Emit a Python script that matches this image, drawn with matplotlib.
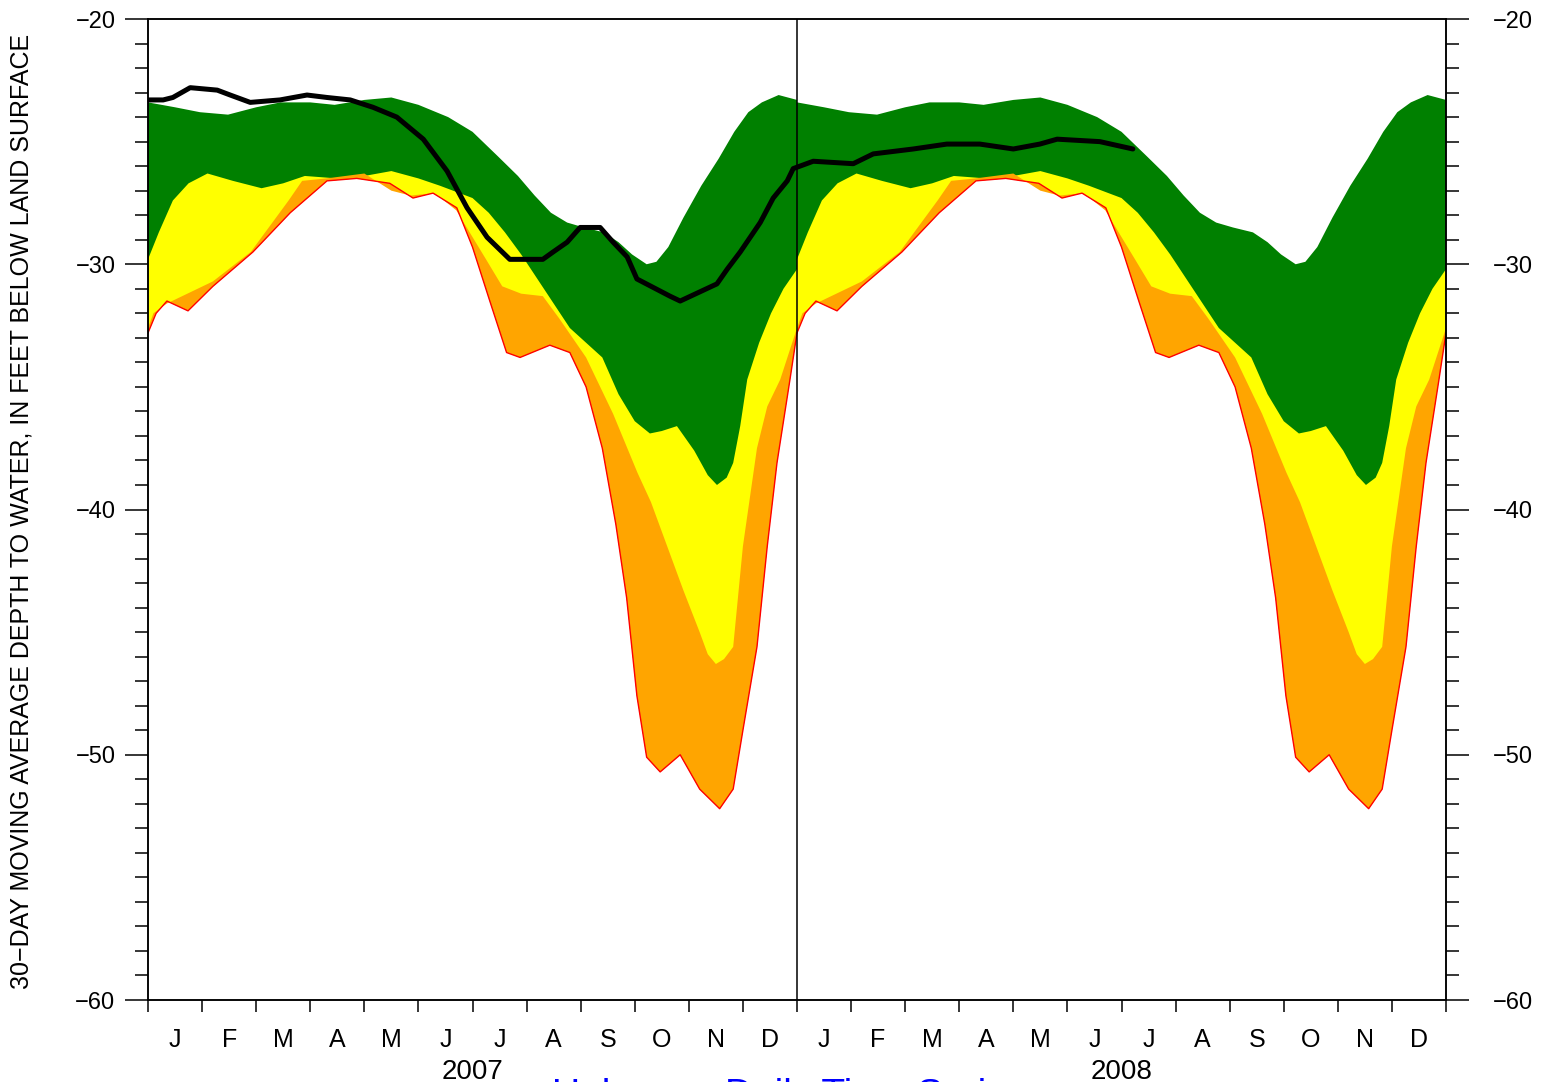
import numpy as np
import matplotlib
matplotlib.use("Agg")
import matplotlib.pyplot as plt
from matplotlib.ticker import MultipleLocator, FixedLocator, FixedFormatter, FuncFormatter

plt.rcParams['font.family'] = ['Liberation Sans', 'DejaVu Sans']

years = ['2007', '2008']
months = ['J', 'F', 'M', 'A', 'M', 'J', 'J', 'A', 'S', 'O', 'N', 'D']

# daily percentiles (month of year 0-12 -> depth, ft), same for both years
p75_m = [0.0, 0.5, 0.96, 1.48, 2.0, 2.45, 3.0, 3.45, 4.0, 4.5, 5.0, 5.55, 6.0, 6.47, 6.84, 7.15, 7.45, 7.75, 8.06,
         8.43, 8.7, 8.95, 9.22, 9.4, 9.62, 9.9, 10.23, 10.55, 10.84, 11.1, 11.35, 11.66, 12.0]
p75_v = [-23.4, -23.6, -23.8, -23.9, -23.6, -23.4, -23.4, -23.5, -23.3, -23.2, -23.5, -24.0, -24.6, -25.6, -26.4, -27.2,
         -27.9, -28.3, -28.5, -28.7, -29.1, -29.6, -30.0, -29.9, -29.3, -28.1, -26.8, -25.7, -24.6, -23.8, -23.4, -23.1, -23.3]

p25_m = [0.0, 0.2, 0.46, 0.75, 1.1, 1.57, 2.1, 2.5, 2.9, 3.5, 4.0, 4.5, 5.0, 5.4, 6.0, 6.3, 6.6, 6.9, 7.2, 7.5, 7.8,
         8.1, 8.4, 8.7, 9.0, 9.28, 9.5, 9.78, 10.1, 10.35, 10.52, 10.7, 10.82, 10.95, 11.08, 11.3, 11.52, 11.75, 12.0]
p25_v = [-29.8, -28.7, -27.4, -26.7, -26.3, -26.6, -26.9, -26.7, -26.4, -26.5, -26.4, -26.2, -26.5, -26.8, -27.3, -27.9,
         -28.7, -29.6, -30.6, -31.6, -32.6, -33.2, -33.8, -35.3, -36.4, -36.9, -36.8, -36.6, -37.6, -38.6, -39.0, -38.7,
         -38.1, -36.6, -34.7, -33.2, -32.0, -31.0, -30.2]

p10_m = [0.0, 0.1, 0.35, 1.2, 1.9, 2.6, 2.85, 3.3, 4.0, 4.5, 4.85, 5.3, 5.7, 6.25, 6.55, 6.9, 7.3, 7.6, 8.1, 8.6, 9.05,
         9.3, 9.6, 9.9, 10.2, 10.35, 10.5, 10.65, 10.82, 11.0, 11.26, 11.45, 11.69, 12.0]
p10_v = [-32.6, -32.0, -31.6, -30.7, -29.5, -27.4, -26.6, -26.5, -26.3, -27.0, -27.2, -27.1, -27.8, -29.8, -30.9, -31.2,
         -31.3, -32.2, -33.8, -36.1, -38.5, -39.7, -41.5, -43.3, -45.0, -45.9, -46.3, -46.1, -45.6, -41.5, -37.5, -35.8,
         -34.7, -32.6]

min_m = [0.0, 0.15, 0.35, 0.74, 1.2, 1.94, 2.63, 3.31, 3.86, 4.47, 4.9, 5.27, 5.71, 6.0, 6.32, 6.63, 6.88, 7.43, 7.8,
         8.1, 8.4, 8.65, 8.85, 9.04, 9.22, 9.47, 9.84, 10.2, 10.57, 10.82, 11.0, 11.26, 11.45, 11.63, 11.87, 12.0]
min_v = [-32.8, -32.0, -31.5, -31.9, -30.9, -29.5, -27.9, -26.6, -26.5, -26.7, -27.3, -27.1, -27.7, -29.3, -31.5, -33.6,
         -33.8, -33.3, -33.6, -35.0, -37.5, -40.6, -43.6, -47.6, -50.1, -50.7, -50.0, -51.4, -52.2, -51.4, -49.0, -45.6,
         -41.5, -38.1, -34.7, -32.8]

# 30-day moving average, months since Jan 2007
obs_m = [0.0, 0.28, 0.46, 0.78, 1.28, 1.52, 1.89, 2.44, 2.94, 3.31, 3.74, 4.16, 4.6, 5.09, 5.53, 5.9, 6.27, 6.69,
         7.3, 7.49, 7.75, 7.99, 8.36, 8.6, 8.86, 9.04, 9.65, 9.84, 10.52, 10.71, 10.95, 11.32, 11.56, 11.82, 11.93,
         12.3, 13.04, 13.41, 14.15, 14.77, 15.38, 16.0, 16.49, 16.81, 17.6, 18.21]
obs_v = [-23.3, -23.3, -23.2, -22.8, -22.9, -23.1, -23.4, -23.3, -23.1, -23.2, -23.3, -23.6, -24.0, -24.9, -26.2, -27.7,
         -28.9, -29.8, -29.8, -29.5, -29.1, -28.5, -28.5, -29.1, -29.7, -30.6, -31.3, -31.5, -30.8, -30.2, -29.5, -28.3,
         -27.3, -26.6, -26.1, -25.8, -25.9, -25.5, -25.3, -25.1, -25.1, -25.3, -25.1, -24.9, -25.0, -25.3]

fig = plt.figure(figsize=(15.44, 10.82), dpi=100)
ax = fig.add_axes([148 / 1544, 1 - 1000 / 1082, 1298 / 1544, 981 / 1082])


def band(upper_m, upper_v, lower_m, lower_v, color):
    for k in range(len(years)):
        xu = np.array(upper_m) + 12 * k
        xl = np.array(lower_m) + 12 * k
        ax.fill(np.concatenate([xu, xl[::-1]]), np.concatenate([upper_v, lower_v[::-1]]),
                color=color, lw=0, zorder=1)


band(p75_m, p75_v, min_m, min_v, '#008000')
band(p25_m, p25_v, min_m, min_v, '#ffff00')
band(p10_m, p10_v, min_m, min_v, '#ffa500')
for k in range(len(years)):
    ax.plot(np.array(min_m) + 12 * k, min_v, color='red', lw=1.0, zorder=2)

ax.axvline(12, color='black', lw=1.1, zorder=3)
ax.plot(obs_m, obs_v, color='black', lw=3.6, solid_capstyle='round', solid_joinstyle='round', zorder=4)

ax.set_xlim(0, 24)
ax.set_ylim(-60, -20)

ax.xaxis.set_major_locator(MultipleLocator(1))
ax.xaxis.set_minor_locator(FixedLocator(np.arange(0.5, 24, 1)))
ax.xaxis.set_minor_formatter(FixedFormatter(months * 2))
ax.tick_params(axis='x', which='major', direction='out', length=8.6, width=1.1, labelbottom=False)
ax.tick_params(axis='x', which='minor', length=0, pad=20, labelsize=18)

fmt = FuncFormatter(lambda v, p: '\u2212' + '%d' % abs(v) if v < 0 else '%d' % v)
ax.yaxis.set_major_locator(MultipleLocator(10))
ax.yaxis.set_minor_locator(MultipleLocator(1))
ax.yaxis.set_major_formatter(fmt)
ax.tick_params(axis='y', which='major', direction='out', length=16.5, width=1.1, labelsize=17, pad=7)
ax.tick_params(axis='y', which='minor', direction='out', length=9.5, width=1.1)

ax2 = ax.twinx()
ax2.set_ylim(-60, -20)
ax2.yaxis.set_major_locator(MultipleLocator(10))
ax2.yaxis.set_minor_locator(MultipleLocator(1))
ax2.yaxis.set_major_formatter(fmt)
ax2.tick_params(axis='y', which='major', direction='out', length=16.5, width=1.1, labelsize=17, pad=17)
ax2.tick_params(axis='y', which='minor', direction='out', length=9.5, width=1.1)

for a in (ax, ax2):
    for s in a.spines.values():
        s.set_linewidth(1.1)

for k, yr in enumerate(years):
    ax.text(6 + 12 * k, -62.4, yr, ha='center', va='top', fontsize=20)

fig.text(22 / 1544, 1 - 511 / 1082,
         '30\u2212DAY MOVING AVERAGE DEPTH TO WATER, IN FEET BELOW LAND SURFACE',
         rotation=90, ha='center', va='center', fontsize=18)

fig.text(790 / 1544, 1 - 1078 / 1082, 'Unknown Daily Time Series', color='#0000ff',
         ha='center', va='top', fontsize=28)

fig.savefig('out.png', dpi=100)
